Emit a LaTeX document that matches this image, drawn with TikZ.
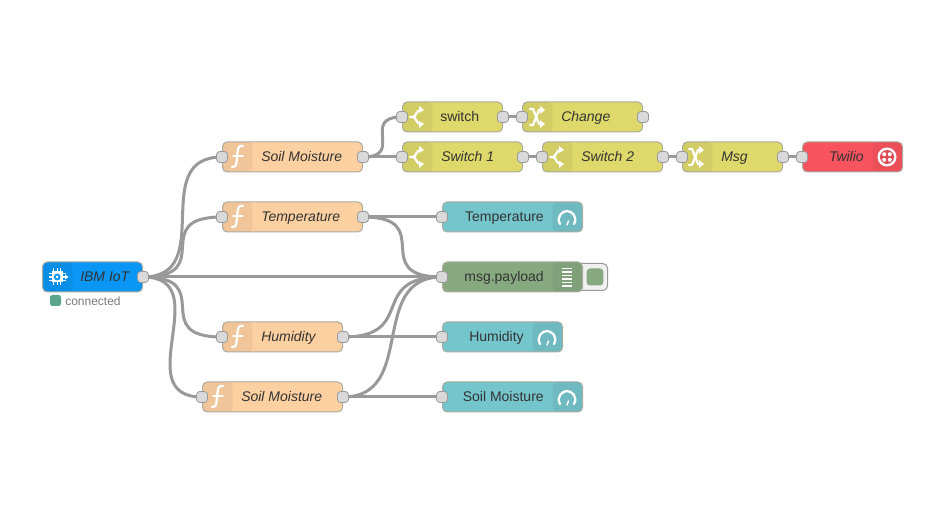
\documentclass[tikz,border=0pt]{standalone}
\usepackage{fontspec}
\setmainfont{Liberation Sans}
\usetikzlibrary{calc,backgrounds}
\definecolor{fnc}{HTML}{FDD0A2}
\definecolor{swc}{HTML}{DFD96B}
\definecolor{gac}{HTML}{75C5CC}
\definecolor{dbc}{HTML}{87A980}
\definecolor{ibc}{HTML}{0A96F5}
\definecolor{twc}{HTML}{F7545F}
\definecolor{wirec}{HTML}{999999}
\definecolor{portc}{HTML}{D9D9D9}
\definecolor{edgec}{HTML}{ABABA0}
\definecolor{labelc}{HTML}{333333}
\definecolor{stc}{HTML}{5AA58C}
\tikzset{
  nrbox/.style={draw=edgec,line width=.75pt,rounded corners=3.5pt,minimum height=22.5pt,inner sep=0pt,anchor=west},
  iconleft/.style={path picture={\fill[black,opacity=.05] (path picture bounding box.north west) rectangle ([xshift=22.5pt]path picture bounding box.south west);}},
  iconright/.style={path picture={\fill[black,opacity=.05] (path picture bounding box.north east) rectangle ([xshift=-22.5pt]path picture bounding box.south east);}},
  port/.style={draw=wirec,fill=portc,line width=.6pt,rounded corners=2.4pt,minimum size=8.25pt,inner sep=0pt},
  wire/.style={draw=wirec,line width=2.25pt},
  lab/.style={text=labelc,font=\fontsize{10.5pt}{12pt}\selectfont,inner sep=0pt,text height=7.6pt,text depth=2pt},
  ilab/.style={lab,font=\fontsize{10.5pt}{12pt}\selectfont\itshape},
  glyph/.style={draw=white,line width=1.7pt,line cap=round,line join=round,fill=none}
}
% #1 name, #2 left, #3 width, #4 centre y, #5 fill, #6 icon side
\newcommand{\nrnode}[6]{\node[nrbox,fill=#5,#6,minimum width=#3*.75pt] (#1) at (#2,#4) {};}
\newcommand{\portin}[1]{\node[port] (#1-i) at (#1.west) {};}
\newcommand{\portout}[1]{\node[port] (#1-o) at (#1.east) {};}
\newcommand{\nrwire}[3][75]{\draw[wire] (#2-o.center) .. controls ($(#2-o.center)+(#1,0)$) and ($(#3-i.center)-(#1,0)$) .. (#3-i.center);}
\newcommand{\fnicon}[2]{\begin{scope}[shift={(#1,#2)}]
  \draw[glyph] (6,-11) .. controls (1,-12) and (1,-8) .. (0.5,-4) -- (-0.5,5) .. controls (-1,9) and (-2,10.5) .. (-5,10);
  \draw[glyph,line width=1.1pt] (-4,-1) -- (6,-1);
\end{scope}}
\newcommand{\swicon}[2]{\begin{scope}[shift={(#1,#2)}]
  \draw[glyph] (-6,0) -- (-3,0) .. controls (0,0) and (0,-7) .. (5,-7);
  \draw[glyph] (-3,0) .. controls (0,0) and (0,7) .. (5,7);
  \fill[white] (3,-11) -- (8,-7) -- (3,-4) -- cycle;
  \fill[white] (3,4) -- (8,7) -- (3,11) -- cycle;
\end{scope}}
\newcommand{\chicon}[2]{\begin{scope}[shift={(#1,#2)}]
  \draw[glyph] (-7,-8) -- (-4,-8) -- (2,7) -- (5,7);
  \draw[glyph] (-7,8) -- (-4,8) -- (2,-7) -- (5,-7);
  \fill[white] (3,-11) -- (8,-7) -- (3,-3) -- cycle;
  \fill[white] (3,3) -- (8,7) -- (3,11) -- cycle;
\end{scope}}
\newcommand{\gaicon}[2]{\begin{scope}[shift={(#1,#2)}]
  \draw[glyph] (-7,6) .. controls (-11,-1) and (-5,-7) .. (0,-7) .. controls (5,-7) and (11,-1) .. (7,6);
  \draw[glyph,line width=1.1pt] (0,7) -- (1.5,3);
\end{scope}}
\newcommand{\dbicon}[2]{\begin{scope}[shift={(#1,#2)}]
  \foreach \yy in {-8.5,-5,-1.5,2,5.5,9} \draw[white,line width=.9pt] (-5,\yy) -- (5,\yy);
\end{scope}}
\begin{document}
\begin{tikzpicture}[x=.75pt,y=-.75pt]
\useasboundingbox (0,0) rectangle (949,530);
\begin{scope}[on background layer]
\fill[white] (0,0) rectangle (949,530);
\end{scope}

% nodes
\nrnode{ibm}{42}{100}{277}{ibc}{iconleft}
\nrnode{sma}{222}{140}{157}{fnc}{iconleft}
\nrnode{tmp}{222}{140}{217}{fnc}{iconleft}
\nrnode{hum}{222}{120}{337}{fnc}{iconleft}
\nrnode{smb}{202}{140}{397}{fnc}{iconleft}
\nrnode{swa}{402}{100}{117}{swc}{iconleft}
\nrnode{chg}{522}{120}{117}{swc}{iconleft}
\nrnode{swb}{402}{120}{157}{swc}{iconleft}
\nrnode{swd}{542}{120}{157}{swc}{iconleft}
\nrnode{msg}{682}{100}{157}{swc}{iconleft}
\nrnode{twi}{802}{100}{157}{twc}{iconright}
\nrnode{gta}{442}{140}{217}{gac}{iconright}
\node[draw=wirec,fill=black!6,line width=.75pt,rounded corners=3.5pt,minimum width=24pt,minimum height=20.25pt,inner sep=0pt,anchor=east] (btn) at (608,277) {};
\node[fill=dbc,rounded corners=2.5pt,minimum width=12.5pt,minimum height=12.75pt,inner sep=0pt] (btnin) at (595,277) {};
\nrnode{dbg}{442}{140}{277}{dbc}{iconright}
\nrnode{gth}{442}{120}{337}{gac}{iconright}
\nrnode{gts}{442}{140}{397}{gac}{iconright}

% labels
\node[ilab,anchor=west] (libm) at (80,278) {IBM IoT};
\node[ilab,anchor=west] (lsma) at (261,158) {Soil Moisture};
\node[ilab,anchor=west] (ltmp) at (261,218) {Temperature};
\node[ilab,anchor=west] (lhum) at (261,338) {Humidity};
\node[ilab,anchor=west] (lsmb) at (241,398) {Soil Moisture};
\node[lab,anchor=west] (lswa) at (440,118) {switch};
\node[ilab,anchor=west] (lchg) at (561,118) {Change};
\node[ilab,anchor=west] (lswb) at (441,158) {Switch 1};
\node[ilab,anchor=west] (lswd) at (581,158) {Switch 2};
\node[ilab,anchor=west] (lmsg) at (721,158) {Msg};
\node[ilab,anchor=east] (ltwi) at (864,158) {Twilio};
\node[lab,anchor=east] (lgta) at (544,218) {Temperature};
\node[lab,anchor=east] (ldbg) at (544,278) {msg.payload};
\node[lab,anchor=east] (lgth) at (524,338) {Humidity};
\node[lab,anchor=east] (lgts) at (544,398) {Soil Moisture};

% status
\node[fill=stc,rounded corners=1.8pt,minimum size=8.25pt,inner sep=0pt] (stdot) at (55.5,300.5) {};
\node[anchor=west,inner sep=0pt,text=black!52,font=\fontsize{9pt}{11pt}\selectfont] (stlab) at (65,301) {connected};

% icons
\fnicon{237}{157}
\fnicon{237}{217}
\fnicon{237}{337}
\fnicon{217}{397}
\swicon{416}{117}
\chicon{537}{117}
\swicon{416}{157}
\swicon{556}{157}
\chicon{696}{157}
\gaicon{567}{218}
\gaicon{547}{338}
\gaicon{567}{398}
\dbicon{567}{277}
% chip icon
\fill[white] (51.5,271.5) rectangle (63,282.5);
\foreach \dd in {-3.5,0,3.5} {
  \draw[white,line width=.8pt] (57.2+\dd,268.5) -- (57.2+\dd,285.5);
  \draw[white,line width=.8pt] (48.5,277+\dd) -- (66,277+\dd);
}
\fill[ibc] (57.2,277) circle (3.4);
\fill[white] (57.2,277) circle (1.5);
\fill[white] (65,274.5) -- (68.5,277) -- (65,279.5) -- cycle;
% twilio icon
\fill[white] (887,157) circle (9.5);
\fill[twc!90!black] (887,157) circle (7);
\foreach \sx in {-2.8,2.8} \foreach \sy in {-2.8,2.8} \fill[white] (887+\sx,157+\sy) circle (2);

% ports
\portout{ibm}
\portin{sma}\portout{sma}
\portin{tmp}\portout{tmp}
\portin{hum}\portout{hum}
\portin{smb}\portout{smb}
\portin{swa}\portout{swa}
\portin{chg}\portout{chg}
\portin{swb}\portout{swb}
\portin{swd}\portout{swd}
\portin{msg}\portout{msg}
\portin{twi}
\portin{gta}
\portin{dbg}
\portin{gth}
\portin{gts}

% wires
\begin{scope}[on background layer]
\nrwire{ibm}{sma}
\nrwire{ibm}{tmp}
\nrwire{ibm}{dbg}
\nrwire{ibm}{hum}
\nrwire{ibm}{smb}
\nrwire[42]{sma}{swa}
\nrwire[30]{sma}{swb}
\nrwire[15]{swa}{chg}
\nrwire[15]{swb}{swd}
\nrwire[15]{swd}{msg}
\nrwire[15]{msg}{twi}
\nrwire{tmp}{gta}
\nrwire{tmp}{dbg}
\nrwire{hum}{dbg}
\nrwire{hum}{gth}
\nrwire{smb}{dbg}
\nrwire{smb}{gts}
\end{scope}
\end{tikzpicture}
\end{document}
